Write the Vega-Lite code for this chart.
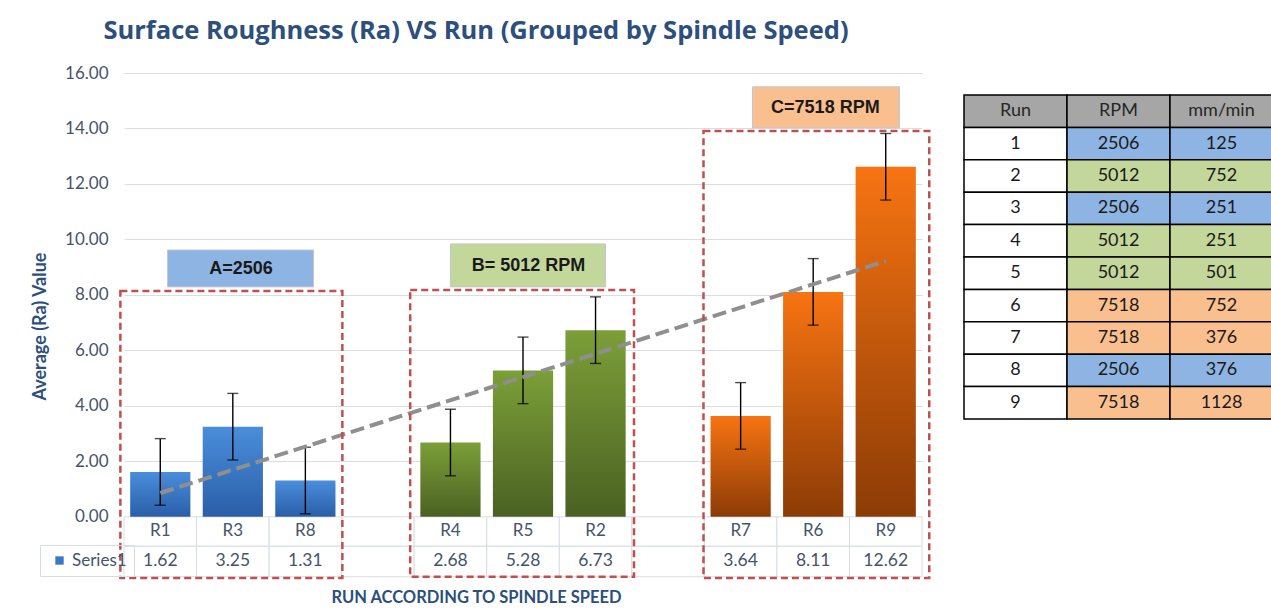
{
  "$schema": "https://vega.github.io/schema/vega-lite/v6.json",
  "background": "white",
  "padding": {"left": 31, "top": 18, "right": 0, "bottom": 0},
  "bounds": "flush",
  "spacing": 42,
  "config": {"view": {"stroke": null}, "font": "Lato"},
  "datasets": {
    "cats": [
      {"cat": "R1", "val": 1.62, "lo": 0.42, "hi": 2.82, "grp": "A", "series": "Series1"},
      {"cat": "R3", "val": 3.25, "lo": 2.05, "hi": 4.45, "grp": "A", "series": "Series1"},
      {"cat": "R8", "val": 1.31, "lo": 0.11, "hi": 2.51, "grp": "A", "series": "Series1"},
      {"cat": "g1", "val": null, "lo": null, "hi": null, "grp": "gap", "series": "Series1"},
      {"cat": "R4", "val": 2.68, "lo": 1.48, "hi": 3.88, "grp": "B", "series": "Series1"},
      {"cat": "R5", "val": 5.28, "lo": 4.08, "hi": 6.48, "grp": "B", "series": "Series1"},
      {"cat": "R2", "val": 6.73, "lo": 5.53, "hi": 7.93, "grp": "B", "series": "Series1"},
      {"cat": "g2", "val": null, "lo": null, "hi": null, "grp": "gap", "series": "Series1"},
      {"cat": "R7", "val": 3.64, "lo": 2.44, "hi": 4.84, "grp": "C", "series": "Series1"},
      {"cat": "R6", "val": 8.11, "lo": 6.91, "hi": 9.31, "grp": "C", "series": "Series1"},
      {"cat": "R9", "val": 12.62, "lo": 11.42, "hi": 13.82, "grp": "C", "series": "Series1"}
    ],
    "trend": [
      {"cat": "R1", "t": 0.86},
      {"cat": "R9", "t": 9.22}
    ],
    "groups": [
      {"grp": "A", "first": "R1", "mid": "R3", "last": "R8", "label": "A=2506"},
      {"grp": "B", "first": "R4", "mid": "R5", "last": "R2", "label": "B= 5012 RPM"},
      {"grp": "C", "first": "R7", "mid": "R6", "last": "R9", "label": "C=7518 RPM"}
    ],
    "runs": [
      {"run": "1", "rpm": "2506", "feed": "125", "grp": "A"},
      {"run": "2", "rpm": "5012", "feed": "752", "grp": "B"},
      {"run": "3", "rpm": "2506", "feed": "251", "grp": "A"},
      {"run": "4", "rpm": "5012", "feed": "251", "grp": "B"},
      {"run": "5", "rpm": "5012", "feed": "501", "grp": "B"},
      {"run": "6", "rpm": "7518", "feed": "752", "grp": "C"},
      {"run": "7", "rpm": "7518", "feed": "376", "grp": "C"},
      {"run": "8", "rpm": "2506", "feed": "376", "grp": "A"},
      {"run": "9", "rpm": "7518", "feed": "1128", "grp": "C"}
    ],
    "header": [
      {"col": "run", "text": "Run"},
      {"col": "rpm", "text": "RPM"},
      {"col": "feed", "text": "mm/min"}
    ]
  },
  "hconcat": [
    {
      "width": 798,
      "height": 506,
      "title": {"text": "Surface Roughness (Ra) VS Run (Grouped by Spindle Speed)", "font": "Open Sans", "fontSize": 25.5, "fontWeight": "bold", "color": "#2C4F7C", "anchor": "middle", "frame": "group", "dx": -47, "offset": 20},
      "layer": [
        {
          "data": {"name": "cats"},
          "mark": {"type": "rect", "fill": "white", "stroke": "#D6DCE4", "strokeWidth": 1},
          "encoding": {
            "x": {"field": "cat", "type": "nominal", "scale": {"domain": ["R1","R3","R8","g1","R4","R5","R2","g2","R7","R6","R9"], "paddingInner": 0, "paddingOuter": 0},
              "axis": {"labels": false, "ticks": false, "domain": false, "grid": false, "title": "RUN ACCORDING TO SPINDLE SPEED", "titleFont": "Lato", "titleFontSize": 16.5, "titleFontWeight": "bold", "titleColor": "#2C4F7C", "titlePadding": 10, "titleX": 352}},
            "y": {"datum": 0, "type": "quantitative", "scale": {"domain": [-2.24, 16], "nice": false, "zero": false},
              "axis": {"values": [0,2,4,6,8,10,12,14,16], "format": ".2f", "labelFont": "Lato", "labelFontSize": 17, "labelColor": "#44546A", "labelPadding": 16, "ticks": false, "domain": false, "grid": true, "gridColor": "#D9DEE5", "title": "Average (Ra) Value", "titleFont": "Lato", "titleFontSize": 18, "titleFontWeight": "bold", "titleColor": "#2C4F7C", "titlePadding": 15}},
            "y2": {"datum": -1.06}
          }
        },
        {
          "data": {"name": "cats"},
          "mark": {"type": "rect", "fill": "white", "stroke": "#D6DCE4", "strokeWidth": 1},
          "encoding": {
            "x": {"field": "cat", "type": "nominal", "scale": {"domain": ["R1","R3","R8","g1","R4","R5","R2","g2","R7","R6","R9"], "paddingInner": 0, "paddingOuter": 0}},
            "y": {"datum": -1.06, "type": "quantitative", "scale": {"domain": [-2.24, 16], "nice": false, "zero": false}},
            "y2": {"datum": -2.16}
          }
        },
        {
          "data": {"name": "cats"},
          "transform": [{"filter": "datum.grp === 'A'"}],
          "mark": {"type": "bar", "fill": {"gradient": "linear", "x1": 0, "y1": 0, "x2": 0, "y2": 1, "stops": [{"offset": 0, "color": "#4A8EDB"}, {"offset": 1, "color": "#2A5EA8"}]}},
          "encoding": {
            "x": {"field": "cat", "type": "nominal", "bandPosition": 0.085, "scale": {"domain": ["R1","R3","R8","g1","R4","R5","R2","g2","R7","R6","R9"], "paddingInner": 0, "paddingOuter": 0}},
            "x2": {"field": "cat", "bandPosition": 0.915},
            "y": {"field": "val", "type": "quantitative", "scale": {"domain": [-2.24, 16], "nice": false, "zero": false}},
            "y2": {"datum": 0}
          }
        },
        {
          "data": {"name": "cats"},
          "transform": [{"filter": "datum.grp === 'B'"}],
          "mark": {"type": "bar", "fill": {"gradient": "linear", "x1": 0, "y1": 0, "x2": 0, "y2": 1, "stops": [{"offset": 0, "color": "#7C9F38"}, {"offset": 1, "color": "#4A6122"}]}},
          "encoding": {
            "x": {"field": "cat", "type": "nominal", "bandPosition": 0.085, "scale": {"domain": ["R1","R3","R8","g1","R4","R5","R2","g2","R7","R6","R9"], "paddingInner": 0, "paddingOuter": 0}},
            "x2": {"field": "cat", "bandPosition": 0.915},
            "y": {"field": "val", "type": "quantitative", "scale": {"domain": [-2.24, 16], "nice": false, "zero": false}},
            "y2": {"datum": 0}
          }
        },
        {
          "data": {"name": "cats"},
          "transform": [{"filter": "datum.grp === 'C'"}],
          "mark": {"type": "bar", "fill": {"gradient": "linear", "x1": 0, "y1": 0, "x2": 0, "y2": 1, "stops": [{"offset": 0, "color": "#F77412"}, {"offset": 1, "color": "#8C3B06"}]}},
          "encoding": {
            "x": {"field": "cat", "type": "nominal", "bandPosition": 0.085, "scale": {"domain": ["R1","R3","R8","g1","R4","R5","R2","g2","R7","R6","R9"], "paddingInner": 0, "paddingOuter": 0}},
            "x2": {"field": "cat", "bandPosition": 0.915},
            "y": {"field": "val", "type": "quantitative", "scale": {"domain": [-2.24, 16], "nice": false, "zero": false}},
            "y2": {"datum": 0}
          }
        },
        {
          "data": {"name": "cats"},
          "transform": [{"filter": "datum.val != null"}],
          "mark": {"type": "rule", "color": "black", "strokeWidth": 1.4},
          "encoding": {
            "x": {"field": "cat", "type": "nominal", "scale": {"domain": ["R1","R3","R8","g1","R4","R5","R2","g2","R7","R6","R9"], "paddingInner": 0, "paddingOuter": 0}},
            "y": {"field": "lo", "type": "quantitative", "scale": {"domain": [-2.24, 16], "nice": false, "zero": false}},
            "y2": {"field": "hi"}
          }
        },
        {
          "data": {"name": "cats"},
          "transform": [{"filter": "datum.val != null"}],
          "mark": {"type": "tick", "color": "black", "size": 11, "thickness": 1.4},
          "encoding": {
            "x": {"field": "cat", "type": "nominal", "scale": {"domain": ["R1","R3","R8","g1","R4","R5","R2","g2","R7","R6","R9"], "paddingInner": 0, "paddingOuter": 0}},
            "y": {"field": "hi", "type": "quantitative", "scale": {"domain": [-2.24, 16], "nice": false, "zero": false}}
          }
        },
        {
          "data": {"name": "cats"},
          "transform": [{"filter": "datum.val != null"}],
          "mark": {"type": "tick", "color": "black", "size": 11, "thickness": 1.4},
          "encoding": {
            "x": {"field": "cat", "type": "nominal", "scale": {"domain": ["R1","R3","R8","g1","R4","R5","R2","g2","R7","R6","R9"], "paddingInner": 0, "paddingOuter": 0}},
            "y": {"field": "lo", "type": "quantitative", "scale": {"domain": [-2.24, 16], "nice": false, "zero": false}}
          }
        },
        {
          "data": {"name": "trend"},
          "mark": {"type": "line", "color": "#8F8F8F", "strokeWidth": 4, "strokeDash": [14, 6]},
          "encoding": {
            "x": {"field": "cat", "type": "nominal", "scale": {"domain": ["R1","R3","R8","g1","R4","R5","R2","g2","R7","R6","R9"], "paddingInner": 0, "paddingOuter": 0}},
            "y": {"field": "t", "type": "quantitative", "scale": {"domain": [-2.24, 16], "nice": false, "zero": false}}
          }
        },
        {
          "data": {"name": "cats"},
          "transform": [{"filter": "datum.val != null"}],
          "mark": {"type": "point", "filled": true, "opacity": 0, "shape": "square"},
          "encoding": {
            "x": {"field": "cat", "type": "nominal", "scale": {"domain": ["R1","R3","R8","g1","R4","R5","R2","g2","R7","R6","R9"], "paddingInner": 0, "paddingOuter": 0}},
            "y": {"field": "val", "type": "quantitative", "scale": {"domain": [-2.24, 16], "nice": false, "zero": false}},
            "color": {"field": "series", "type": "nominal", "scale": {"range": ["#3D78C6"]},
              "legend": {"orient": "none", "legendX": -84, "legendY": 472, "title": null, "symbolType": "square", "symbolSize": 70, "symbolOpacity": 1, "symbolStrokeWidth": 0, "symbolOffset": 4, "labelOffset": 4, "labelFont": "Lato", "labelFontSize": 17, "labelColor": "#44546A", "strokeColor": "#D6DCE4", "padding": 7}}
          }
        },
        {
          "data": {"name": "cats"},
          "transform": [{"filter": "datum.val != null"}],
          "mark": {"type": "text", "font": "Lato", "fontSize": 17, "color": "#44546A", "baseline": "middle"},
          "encoding": {
            "x": {"field": "cat", "type": "nominal", "scale": {"domain": ["R1","R3","R8","g1","R4","R5","R2","g2","R7","R6","R9"], "paddingInner": 0, "paddingOuter": 0}},
            "y": {"datum": -0.52, "type": "quantitative", "scale": {"domain": [-2.24, 16], "nice": false, "zero": false}},
            "text": {"field": "cat"}
          }
        },
        {
          "data": {"name": "cats"},
          "transform": [{"filter": "datum.val != null"}],
          "mark": {"type": "text", "font": "Lato", "fontSize": 17.5, "color": "#44546A", "baseline": "middle"},
          "encoding": {
            "x": {"field": "cat", "type": "nominal", "scale": {"domain": ["R1","R3","R8","g1","R4","R5","R2","g2","R7","R6","R9"], "paddingInner": 0, "paddingOuter": 0}},
            "y": {"datum": -1.6, "type": "quantitative", "scale": {"domain": [-2.24, 16], "nice": false, "zero": false}},
            "text": {"field": "val", "format": ".2f"}
          }
        },
        {
          "data": {"name": "groups"},
          "transform": [{"filter": "datum.grp === 'A'"}],
          "mark": {"type": "rect", "filled": false, "stroke": "#C0504D", "strokeWidth": 2.5, "strokeDash": [7, 4]},
          "encoding": {
            "x": {"field": "first", "type": "nominal", "bandPosition": -0.05, "scale": {"domain": ["R1","R3","R8","g1","R4","R5","R2","g2","R7","R6","R9"], "paddingInner": 0, "paddingOuter": 0}},
            "x2": {"field": "last", "bandPosition": 1.01},
            "y": {"datum": 8.14, "type": "quantitative", "scale": {"domain": [-2.24, 16], "nice": false, "zero": false}},
            "y2": {"datum": -2.2}
          }
        },
        {
          "data": {"name": "groups"},
          "transform": [{"filter": "datum.grp === 'B'"}],
          "mark": {"type": "rect", "filled": false, "stroke": "#C0504D", "strokeWidth": 2.5, "strokeDash": [7, 4]},
          "encoding": {
            "x": {"field": "first", "type": "nominal", "bandPosition": -0.055, "scale": {"domain": ["R1","R3","R8","g1","R4","R5","R2","g2","R7","R6","R9"], "paddingInner": 0, "paddingOuter": 0}},
            "x2": {"field": "last", "bandPosition": 1.03},
            "y": {"datum": 8.18, "type": "quantitative", "scale": {"domain": [-2.24, 16], "nice": false, "zero": false}},
            "y2": {"datum": -2.16}
          }
        },
        {
          "data": {"name": "groups"},
          "transform": [{"filter": "datum.grp === 'C'"}],
          "mark": {"type": "rect", "filled": false, "stroke": "#C0504D", "strokeWidth": 2.5, "strokeDash": [7, 4]},
          "encoding": {
            "x": {"field": "first", "type": "nominal", "bandPosition": -0.012, "scale": {"domain": ["R1","R3","R8","g1","R4","R5","R2","g2","R7","R6","R9"], "paddingInner": 0, "paddingOuter": 0}},
            "x2": {"field": "last", "bandPosition": 1.1},
            "y": {"datum": 13.91, "type": "quantitative", "scale": {"domain": [-2.24, 16], "nice": false, "zero": false}},
            "y2": {"datum": -2.2}
          }
        },
        {
          "data": {"name": "groups"},
          "transform": [{"filter": "datum.grp === 'A'"}],
          "mark": {"type": "rect", "fill": "#8DB4E2", "stroke": "#BFC7D1", "strokeWidth": 1},
          "encoding": {
            "x": {"field": "first", "type": "nominal", "bandPosition": 0.6, "scale": {"domain": ["R1","R3","R8","g1","R4","R5","R2","g2","R7","R6","R9"], "paddingInner": 0, "paddingOuter": 0}},
            "x2": {"field": "last", "bandPosition": 0.612},
            "y": {"datum": 9.62, "type": "quantitative", "scale": {"domain": [-2.24, 16], "nice": false, "zero": false}},
            "y2": {"datum": 8.29}
          }
        },
        {
          "data": {"name": "groups"},
          "transform": [{"filter": "datum.grp === 'B'"}],
          "mark": {"type": "rect", "fill": "#C4D79B", "stroke": "#BFC7D1", "strokeWidth": 1},
          "encoding": {
            "x": {"field": "first", "type": "nominal", "bandPosition": 0.5, "scale": {"domain": ["R1","R3","R8","g1","R4","R5","R2","g2","R7","R6","R9"], "paddingInner": 0, "paddingOuter": 0}},
            "x2": {"field": "last", "bandPosition": 0.637},
            "y": {"datum": 9.84, "type": "quantitative", "scale": {"domain": [-2.24, 16], "nice": false, "zero": false}},
            "y2": {"datum": 8.29}
          }
        },
        {
          "data": {"name": "groups"},
          "transform": [{"filter": "datum.grp === 'C'"}],
          "mark": {"type": "rect", "fill": "#FABF8F", "stroke": "#BFC7D1", "strokeWidth": 1},
          "encoding": {
            "x": {"field": "first", "type": "nominal", "bandPosition": 0.663, "scale": {"domain": ["R1","R3","R8","g1","R4","R5","R2","g2","R7","R6","R9"], "paddingInner": 0, "paddingOuter": 0}},
            "x2": {"field": "last", "bandPosition": 0.689},
            "y": {"datum": 15.5, "type": "quantitative", "scale": {"domain": [-2.24, 16], "nice": false, "zero": false}},
            "y2": {"datum": 14.02}
          }
        },
        {
          "data": {"name": "groups"},
          "transform": [{"filter": "datum.grp === 'A'"}],
          "mark": {"type": "text", "font": "Liberation Sans", "fontSize": 18, "fontWeight": "bold", "color": "#1A1A1A", "baseline": "middle"},
          "encoding": {
            "x": {"field": "mid", "type": "nominal", "bandPosition": 0.613, "scale": {"domain": ["R1","R3","R8","g1","R4","R5","R2","g2","R7","R6","R9"], "paddingInner": 0, "paddingOuter": 0}},
            "y": {"datum": 8.95, "type": "quantitative", "scale": {"domain": [-2.24, 16], "nice": false, "zero": false}},
            "text": {"field": "label"}
          }
        },
        {
          "data": {"name": "groups"},
          "transform": [{"filter": "datum.grp === 'B'"}],
          "mark": {"type": "text", "font": "Liberation Sans", "fontSize": 18, "fontWeight": "bold", "color": "#1A1A1A", "baseline": "middle"},
          "encoding": {
            "x": {"field": "mid", "type": "nominal", "bandPosition": 0.575, "scale": {"domain": ["R1","R3","R8","g1","R4","R5","R2","g2","R7","R6","R9"], "paddingInner": 0, "paddingOuter": 0}},
            "y": {"datum": 9.06, "type": "quantitative", "scale": {"domain": [-2.24, 16], "nice": false, "zero": false}},
            "text": {"field": "label"}
          }
        },
        {
          "data": {"name": "groups"},
          "transform": [{"filter": "datum.grp === 'C'"}],
          "mark": {"type": "text", "font": "Liberation Sans", "fontSize": 18, "fontWeight": "bold", "color": "#1A1A1A", "baseline": "middle"},
          "encoding": {
            "x": {"field": "mid", "type": "nominal", "bandPosition": 0.668, "scale": {"domain": ["R1","R3","R8","g1","R4","R5","R2","g2","R7","R6","R9"], "paddingInner": 0, "paddingOuter": 0}},
            "y": {"datum": 14.74, "type": "quantitative", "scale": {"domain": [-2.24, 16], "nice": false, "zero": false}},
            "text": {"field": "label"}
          }
        }
      ]
    },
    {
      "width": 309,
      "height": 368,
      "layer": [
        {
          "data": {"name": "header"},
          "mark": {"type": "rect", "fill": "#A6A6A6", "stroke": "black", "strokeWidth": 1.5},
          "encoding": {
            "x": {"field": "col", "type": "nominal", "scale": {"domain": ["run", "rpm", "feed"], "paddingInner": 0, "paddingOuter": 0}, "axis": null},
            "y": {"datum": "H", "type": "nominal", "scale": {"domain": ["H","1","2","3","4","5","6","7","8","9"], "paddingInner": 0, "paddingOuter": 0.679}, "axis": null}
          }
        },
        {
          "data": {"name": "header"},
          "mark": {"type": "text", "font": "Lato", "fontSize": 18, "color": "#262626", "baseline": "middle"},
          "encoding": {
            "x": {"field": "col", "type": "nominal", "scale": {"domain": ["run", "rpm", "feed"], "paddingInner": 0, "paddingOuter": 0}, "axis": null},
            "y": {"datum": "H", "type": "nominal", "scale": {"domain": ["H","1","2","3","4","5","6","7","8","9"], "paddingInner": 0, "paddingOuter": 0.679}, "axis": null},
            "text": {"field": "text"}
          }
        },
        {
          "data": {"name": "runs"},
          "transform": [{"fold": ["run", "rpm", "feed"], "as": ["col", "txt"]}],
          "mark": {"type": "rect", "stroke": "black", "strokeWidth": 1.5},
          "encoding": {
            "x": {"field": "col", "type": "nominal", "scale": {"domain": ["run", "rpm", "feed"], "paddingInner": 0, "paddingOuter": 0}, "axis": null},
            "y": {"field": "run", "type": "nominal", "scale": {"domain": ["H","1","2","3","4","5","6","7","8","9"], "paddingInner": 0, "paddingOuter": 0.679}, "axis": null},
            "fill": {"condition": {"test": "datum.col === 'run'", "value": "white"}, "field": "grp", "type": "nominal", "scale": {"domain": ["A", "B", "C"], "range": ["#8DB4E2", "#C4D79B", "#FABF8F"]}, "legend": null}
          }
        },
        {
          "data": {"name": "runs"},
          "transform": [{"fold": ["run", "rpm", "feed"], "as": ["col", "txt"]}],
          "mark": {"type": "text", "font": "Lato", "fontSize": 18, "color": "#1A1A1A", "baseline": "middle"},
          "encoding": {
            "x": {"field": "col", "type": "nominal", "scale": {"domain": ["run", "rpm", "feed"], "paddingInner": 0, "paddingOuter": 0}, "axis": null},
            "y": {"field": "run", "type": "nominal", "scale": {"domain": ["H","1","2","3","4","5","6","7","8","9"], "paddingInner": 0, "paddingOuter": 0.679}, "axis": null},
            "text": {"field": "txt"}
          }
        }
      ]
    }
  ]
}
